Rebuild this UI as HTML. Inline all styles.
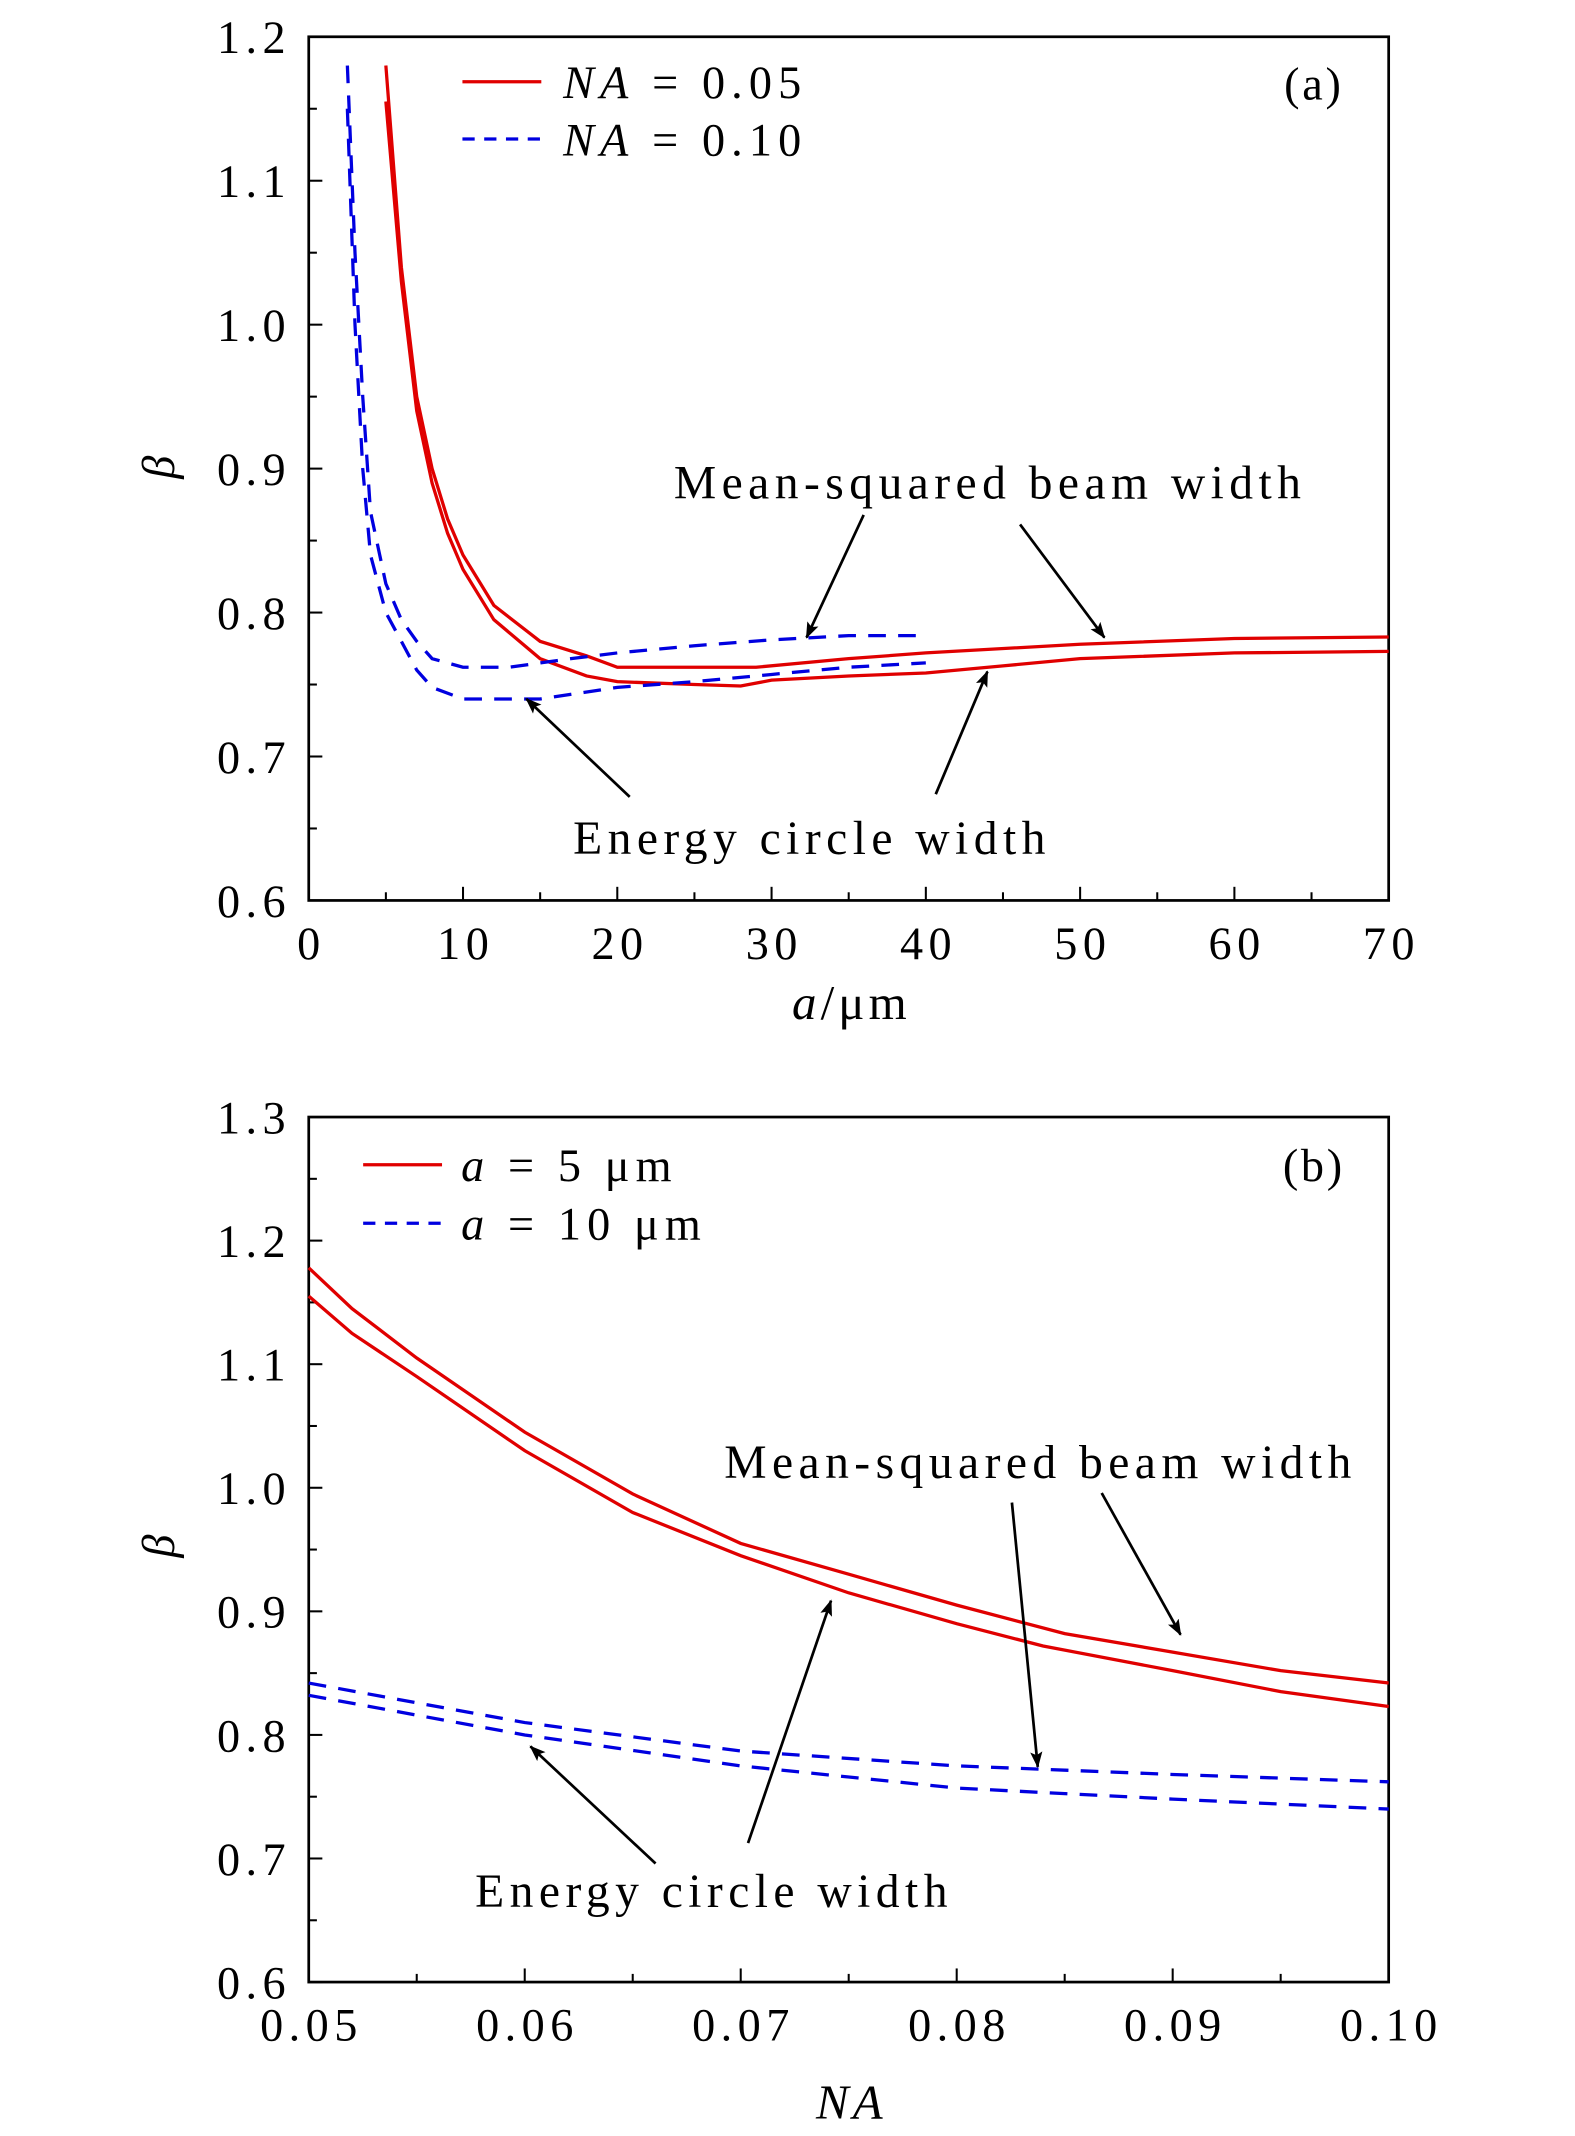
<!DOCTYPE html>
<html><head><meta charset="utf-8"><style>
html,body{margin:0;padding:0;background:#fff}
svg{display:block}
text{font-family:"Liberation Serif",serif;fill:#000}
</style></head><body>
<svg id="fig" width="1575" height="2136" viewBox="0 0 1158 1568" preserveAspectRatio="none" xmlns="http://www.w3.org/2000/svg">
<defs><marker id="ah" markerWidth="12" markerHeight="9" refX="11" refY="4.5" orient="auto" markerUnits="userSpaceOnUse"><path d="M0,0 L12,4.5 L0,9 L2.5,4.5 Z" fill="#000"/></marker></defs>
</svg>
<script>
// Panel (a) data: x = a (μm), y = beta
const aRedMsX=[5,6,7,8,9,10,12,15,18,20,25,29,35,40,50,60,70];
const aRedMsY=[1.18,1.04,0.95,0.90,0.865,0.84,0.805,0.78,0.77,0.762,0.762,0.762,0.768,0.772,0.778,0.782,0.783];
const aRedEcX=[5,6,7,8,9,10,12,15,18,20,25,28,30,35,40,45,50,60,70];
const aRedEcY=[1.155,1.03,0.94,0.89,0.855,0.83,0.795,0.768,0.756,0.752,0.75,0.749,0.753,0.756,0.758,0.763,0.768,0.772,0.773];
const aBlueMsX=[2.5,3,3.5,4,5,6,7,8,10,13,17,20,25,30,35,40];
const aBlueMsY=[1.18,1.05,0.95,0.87,0.82,0.795,0.78,0.768,0.762,0.762,0.768,0.772,0.777,0.781,0.784,0.784];
const aBlueEcX=[2.5,3,3.5,4,5,6,7,8,10,15,20,25,30,35,40];
const aBlueEcY=[1.15,1.0,0.9,0.84,0.80,0.78,0.76,0.748,0.74,0.74,0.748,0.752,0.757,0.762,0.765];
const aXTicks=[0,10,20,30,40,50,60,70];
const aYTicks=[0.6,0.7,0.8,0.9,1.0,1.1,1.2];
// Panel (b) data: x = NA
const bRedMsX=[0.05,0.052,0.055,0.06,0.065,0.07,0.075,0.08,0.085,0.09,0.095,0.10];
const bRedMsY=[1.178,1.145,1.105,1.045,0.995,0.955,0.93,0.905,0.882,0.867,0.852,0.842];
const bRedEcX=[0.05,0.052,0.055,0.06,0.065,0.07,0.075,0.08,0.084,0.09,0.095,0.10];
const bRedEcY=[1.155,1.125,1.09,1.03,0.98,0.945,0.915,0.89,0.872,0.852,0.835,0.823];
const bBlueMsX=[0.05,0.06,0.07,0.08,0.09,0.10];
const bBlueMsY=[0.842,0.81,0.787,0.775,0.768,0.762];
const bBlueEcX=[0.05,0.06,0.07,0.08,0.09,0.10];
const bBlueEcY=[0.832,0.80,0.775,0.757,0.748,0.740];
const bXTicks=[0.05,0.06,0.07,0.08,0.09,0.10];
const bYTicks=[0.6,0.7,0.8,0.9,1.0,1.1,1.2,1.3];

const NS="http://www.w3.org/2000/svg";
const svg=document.getElementById('fig');
function mk(tag,attrs,parent){const e=document.createElementNS(NS,tag);for(const k in attrs)e.setAttribute(k,attrs[k]);(parent||svg).appendChild(e);return e;}
function txt(s,x,y,size,anchor,parent){const t=mk('text',{x:x,y:y,'font-size':size,'text-anchor':anchor||'start'},parent);t.textContent=s;return t;}

function panel(P){
  const g=mk('g',{});
  
  
  const sx=v=>P.L+(v-P.x0)/(P.x1-P.x0)*(P.R-P.L);
  const sy=v=>P.B-(v-P.y0)/(P.y1-P.y0)*(P.B-P.T);
  const fr=mk('rect',{x:P.L,y:P.T,width:P.R-P.L,height:P.B-P.T,fill:'none',stroke:'#000','stroke-width':2},g);
  
  
  const xt=P.xTicks; const step=(xt[1]-xt[0])/2;
  for(let v=P.x0;v<=P.x1+1e-9;v+=step){const major=xt.some(t=>Math.abs(t-v)<1e-9);const x=sx(v);mk('line',{x1:x,x2:x,y1:P.B,y2:P.B-(major?10:6),stroke:'#000','stroke-width':1.5},g);}
  xt.forEach(v=>{const t=txt(P.xfmt(v),sx(v)+2,P.B+43,34,'middle',g);t.setAttribute('letter-spacing','4');});
  const yt=P.yTicks;
  for(let v=P.y0;v<=P.y1+1e-9;v+=0.05){const major=yt.some(t=>Math.abs(t-v)<1e-9);const y=sy(v);mk('line',{x1:P.L,x2:P.L+(major?10:6),y1:y,y2:y,stroke:'#000','stroke-width':1.5},g);}
  yt.forEach(v=>{const t=txt(v.toFixed(1),P.L-13,sy(v)+12,34,'end',g);t.setAttribute('letter-spacing','4');});
  P.series.forEach(s=>{
    const d=s.x.map((v,i)=>(i?'L':'M')+sx(v).toFixed(1)+','+sy(s.y[i]).toFixed(1)).join(' ');
    const p=mk('path',{d:d,fill:'none',stroke:s.c,'stroke-width':2.4},g);
    if(s.dash)p.setAttribute('stroke-dasharray','13,9');
    
    
  });
  return g;
}

const pa=panel({name:'panel-a',L:227,R:1021,T:27,B:661,x0:0,x1:70,y0:0.6,y1:1.2,xTicks:aXTicks,yTicks:aYTicks,xfmt:v=>String(v),
 series:[{x:aRedMsX,y:aRedMsY,c:'#e00000',name:'red-mean-squared-a'},{x:aRedEcX,y:aRedEcY,c:'#e00000',name:'red-energy-circle-a'},
 {x:aBlueMsX,y:aBlueMsY,c:'#0000e0',dash:1,name:'blue-mean-squared-a'},{x:aBlueEcX,y:aBlueEcY,c:'#0000e0',dash:1,name:'blue-energy-circle-a'}]});
const pb=panel({name:'panel-b',L:227,R:1021,T:820,B:1455,x0:0.05,x1:0.10,y0:0.6,y1:1.3,xTicks:bXTicks,yTicks:bYTicks,xfmt:v=>v.toFixed(2),
 series:[{x:bRedMsX,y:bRedMsY,c:'#e00000',name:'red-mean-squared-b'},{x:bRedEcX,y:bRedEcY,c:'#e00000',name:'red-energy-circle-b'},
 {x:bBlueMsX,y:bBlueMsY,c:'#0000e0',dash:1,name:'blue-mean-squared-b'},{x:bBlueEcX,y:bBlueEcY,c:'#0000e0',dash:1,name:'blue-energy-circle-b'}]});

function legend(g,x1,x2,y,c,dash,label,tx){
  const l=mk('line',{x1:x1,x2:x2,y1:y,y2:y,stroke:c,'stroke-width':2.4},g);
  if(dash)l.setAttribute('stroke-dasharray','9,7');
  
  
  const t=mk('text',{x:tx,y:y+12,'font-size':34,'letter-spacing':'4.5'},g);
  t.innerHTML=label;
  
  
}
legend(pa,340,398,60,'#e00000',0,'<tspan font-style="italic">NA</tspan> = 0.05',414);
legend(pa,340,398,102,'#0000e0',1,'<tspan font-style="italic">NA</tspan> = 0.10',414);
legend(pb,267,325,855,'#e00000',0,'<tspan font-style="italic">a</tspan> = 5 μm',339);
legend(pb,267,325,898,'#0000e0',1,'<tspan font-style="italic">a</tspan> = 10 μm',339);
let t;
t=txt('(a)',966,73,34,'middle',pa);t.setAttribute('letter-spacing','2');
t=txt('(b)',966,867,34,'middle',pb);t.setAttribute('letter-spacing','2');

function ann(g,s,x,y){const t=txt(s,x,y,35,'middle',g);t.setAttribute('letter-spacing','4');}
function arrow(g,x1,y1,x2,y2){const l=mk('line',{x1:x1,y1:y1,x2:x2,y2:y2,stroke:'#000','stroke-width':2,'marker-end':'url(#ah)'},g);}
ann(pa,'Mean-squared beam width',728,366);
arrow(pa,635,378,593,468);arrow(pa,750,385,812,468);
ann(pa,'Energy circle width',597,627);
arrow(pa,463,585,387,513);arrow(pa,688,583,726,493);
ann(pb,'Mean-squared beam width',765,1085);
arrow(pb,744,1103,763,1297);arrow(pb,810,1096,868,1200);
ann(pb,'Energy circle width',525,1400);
arrow(pb,482,1368,390,1282);arrow(pb,550,1353,611,1175);

function ylab(g,y){const t=mk('text',{x:0,y:0,'font-size':34,'font-style':'italic',transform:'translate(128,'+y+') rotate(-90)','text-anchor':'middle'},g);t.textContent='β';}
ylab(pa,343);ylab(pb,1135);
t=mk('text',{x:626,y:748,'font-size':36,'text-anchor':'middle','letter-spacing':'3'},pa);t.innerHTML='<tspan font-style="italic">a</tspan>/μm';
t=mk('text',{x:626,y:1555,'font-size':36,'text-anchor':'middle','font-style':'italic','letter-spacing':'3'},pb);t.textContent='NA';
</script>
</body></html>
